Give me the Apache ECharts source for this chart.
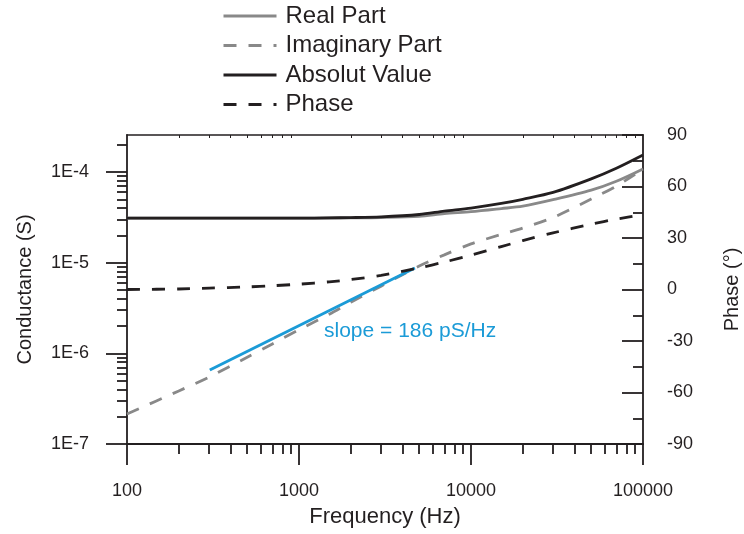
<!DOCTYPE html>
<html>
<head>
<meta charset="utf-8">
<script src="https://cdn.jsdelivr.net/npm/echarts@6/dist/echarts.min.js"></script>
<style>
  html, body { margin: 0; padding: 0; background: #ffffff; }
  #chart { width: 744px; height: 534px; }
</style>
</head>
<body>
<div id="chart"></div>
<script>
// Admittance spectrum of the sample: real, imaginary and absolute conductance plus phase
const frequency = [100, 200, 300, 500, 700, 1000, 1500, 2000, 3000, 5000, 7000, 10000, 15000, 20000, 30000, 50000, 70000, 100000];
const realPart = [3.10e-5, 3.10e-5, 3.10e-5, 3.10e-5, 3.10e-5, 3.10e-5, 3.11e-5, 3.12e-5, 3.15e-5, 3.25e-5, 3.48e-5, 3.65e-5, 3.95e-5, 4.20e-5, 4.95e-5, 6.30e-5, 7.90e-5, 1.08e-4];
const imaginaryPart = [2.14e-7, 3.85e-7, 5.47e-7, 9.06e-7, 1.27e-6, 1.82e-6, 2.70e-6, 3.66e-6, 5.51e-6, 9.20e-6, 1.22e-5, 1.61e-5, 2.05e-5, 2.41e-5, 3.15e-5, 5.04e-5, 7.00e-5, 1.08e-4];
const absoluteValue = [3.10e-5, 3.10e-5, 3.10e-5, 3.10e-5, 3.10e-5, 3.10e-5, 3.12e-5, 3.14e-5, 3.20e-5, 3.40e-5, 3.70e-5, 4.00e-5, 4.50e-5, 5.00e-5, 5.95e-5, 8.40e-5, 1.10e-4, 1.54e-4];
const phaseDeg = [0.0, 0.3, 0.8, 1.5, 2.2, 3.1, 4.5, 5.8, 8.2, 12.6, 16.0, 20.0, 25.0, 28.5, 33.0, 38.0, 41.0, 43.5];

// Linear fit of the imaginary part
const slopeFreq = [303, 4720];
const slopeValue = [6.55e-7, 8.73e-6];
const slopeText = 'slope = 186 pS/Hz';

// Tick positions
const xMinorTicks = [200, 300, 400, 500, 600, 700, 800, 900, 2000, 3000, 4000, 5000, 6000, 7000, 8000, 9000,
  20000, 30000, 40000, 50000, 60000, 70000, 80000, 90000];
const yMajorTicks = [1e-7, 1e-6, 1e-5, 1e-4];
const yMinorTicks = [2e-7, 3e-7, 4e-7, 5e-7, 6e-7, 7e-7, 8e-7, 9e-7, 2e-6, 3e-6, 4e-6, 5e-6, 6e-6, 7e-6, 8e-6, 9e-6,
  2e-5, 3e-5, 4e-5, 5e-5, 6e-5, 7e-5, 8e-5, 9e-5, 2e-4];

const INK = '#231f20';
const GRAY = '#898989';
const BLUE = '#1b9bd7';
const FONT = '"Liberation Sans", Arial, Helvetica, sans-serif';
const DASH = [13, 12];

const pairs = (ys) => frequency.map((f, i) => [f, ys[i]]);

const chart = echarts.init(document.getElementById('chart'), null, { renderer: 'canvas' });

const lineAxis = { show: true, onZero: false, lineStyle: { color: INK, width: 1.8 } };

chart.setOption({
  animation: false,
  textStyle: { fontFamily: FONT },
  grid: { left: 127, right: 101, top: 135, bottom: 90, containLabel: false, outerBoundsMode: 'none' },
  legend: {
    orient: 'vertical',
    left: 222,
    top: 4,
    padding: 0,
    itemWidth: 53,
    itemHeight: 14,
    itemGap: 5.5,
    data: ['Real Part', 'Imaginary Part', 'Absolut Value', 'Phase'],
    itemStyle: { opacity: 0 },
    lineStyle: { width: 3 },
    textStyle: { fontFamily: FONT, fontSize: 24, lineHeight: 24, color: INK, padding: [0, 0, 0, 4] }
  },
  xAxis: [
    {
      type: 'log', logBase: 10, min: 100, max: 100000, position: 'bottom',
      axisLine: lineAxis,
      axisTick: { show: true, inside: false, length: 21, lineStyle: { color: INK, width: 1.8 } },
      axisLabel: { fontSize: 18, color: INK, margin: 38, fontFamily: FONT, formatter: (v) => String(Math.round(v)) },
      splitLine: { show: false },
      name: 'Frequency (Hz)', nameLocation: 'middle', nameGap: 62,
      nameTextStyle: { fontSize: 22, color: INK, fontFamily: FONT }
    },
    {
      type: 'log', logBase: 10, min: 100, max: 100000, position: 'bottom',
      axisLine: { show: false, onZero: false },
      axisTick: { show: true, inside: false, length: 10, customValues: xMinorTicks, lineStyle: { color: INK, width: 1.8 } },
      axisLabel: { show: false },
      splitLine: { show: false }
    },
    {
      type: 'log', logBase: 10, min: 100, max: 100000, position: 'top',
      axisLine: { show: true, onZero: false, lineStyle: { color: INK, width: 1.5 } },
      axisTick: { show: true, inside: true, length: 3, customValues: xMinorTicks, lineStyle: { color: INK, width: 1 } },
      axisLabel: { show: false },
      splitLine: { show: false }
    }
  ],
  yAxis: [
    {
      type: 'log', logBase: 10, min: 1e-7, max: 2.56e-4, position: 'left',
      axisLine: lineAxis,
      axisTick: { show: true, inside: false, length: 21, customValues: yMajorTicks, lineStyle: { color: INK, width: 1.8 } },
      axisLabel: {
        customValues: yMajorTicks, fontSize: 18, color: INK, margin: 38, fontFamily: FONT,
        formatter: (v) => '1E' + Math.round(Math.log10(v))
      },
      splitLine: { show: false },
      name: 'Conductance (S)', nameLocation: 'middle', nameGap: 92,
      nameTextStyle: { fontSize: 20, color: INK, fontFamily: FONT }
    },
    {
      type: 'value', min: -90, max: 90, interval: 30, position: 'right',
      axisLine: lineAxis,
      axisTick: { show: true, inside: true, length: 21, lineStyle: { color: INK, width: 1.8 } },
      minorTick: { show: true, splitNumber: 2, length: 10, lineStyle: { color: INK, width: 1.8 } },
      axisLabel: { fontSize: 18, color: INK, margin: 24, fontFamily: FONT },
      splitLine: { show: false },
      name: 'Phase (°)', nameLocation: 'middle', nameGap: 79,
      nameTextStyle: { fontSize: 20, color: INK, fontFamily: FONT }
    },
    {
      type: 'log', logBase: 10, min: 1e-7, max: 2.56e-4, position: 'left',
      axisLine: { show: false, onZero: false },
      axisTick: { show: true, inside: false, length: 10, customValues: yMinorTicks, lineStyle: { color: INK, width: 1.8 } },
      axisLabel: { show: false },
      splitLine: { show: false }
    }
  ],
  series: [
    {
      name: 'Imaginary Part', type: 'line', xAxisIndex: 0, yAxisIndex: 0,
      data: pairs(imaginaryPart), showSymbol: false, symbol: 'none', smooth: 0.3,
      lineStyle: { color: GRAY, width: 2.8, type: DASH }, itemStyle: { color: GRAY }
    },
    {
      name: 'slope fit', type: 'line', xAxisIndex: 0, yAxisIndex: 0,
      data: slopeFreq.map((f, i) => [f, slopeValue[i]]), showSymbol: false, symbol: 'none',
      lineStyle: { color: BLUE, width: 3 }, itemStyle: { color: BLUE }
    },
    {
      name: 'Real Part', type: 'line', xAxisIndex: 0, yAxisIndex: 0,
      data: pairs(realPart), showSymbol: false, symbol: 'none', smooth: 0.3,
      lineStyle: { color: GRAY, width: 2.8 }, itemStyle: { color: GRAY }
    },
    {
      name: 'Absolut Value', type: 'line', xAxisIndex: 0, yAxisIndex: 0,
      data: pairs(absoluteValue), showSymbol: false, symbol: 'none', smooth: 0.3,
      lineStyle: { color: INK, width: 2.8 }, itemStyle: { color: INK }
    },
    {
      name: 'Phase', type: 'line', xAxisIndex: 0, yAxisIndex: 1,
      data: pairs(phaseDeg), showSymbol: false, symbol: 'none', smooth: 0.3,
      lineStyle: { color: INK, width: 2.8, type: DASH }, itemStyle: { color: INK }
    }
  ],
  graphic: [
    {
      type: 'text', left: 324, top: 321,
      style: { text: slopeText, fill: BLUE, font: '21px ' + FONT }
    }
  ]
});
</script>
</body>
</html>
